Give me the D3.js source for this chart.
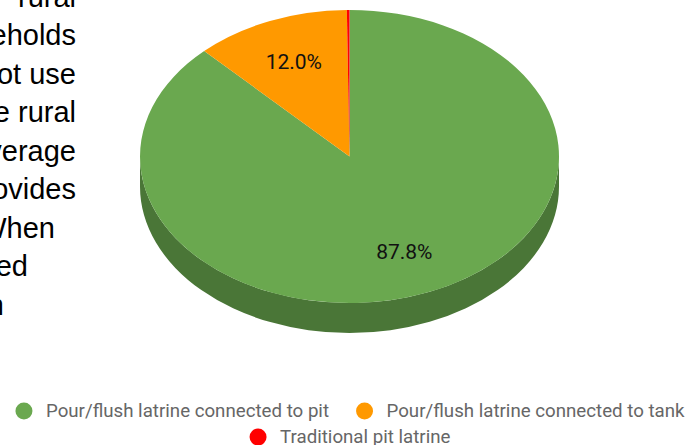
<!DOCTYPE html>
<html>
<head>
<meta charset="utf-8">
<script src="https://cdn.jsdelivr.net/npm/d3@7"></script>
<style>
  body { margin: 0; background: #fff; }
  svg { display: block; }
</style>
</head>
<body>
<div id="chart"></div>
<script>
// Slices, in drawing order (clockwise from 12 o'clock)
var categories = [
    "Pour/flush latrine connected to pit",
    "Pour/flush latrine connected to tank",
    "Traditional pit latrine"
];
var values = [87.8, 12.0, 0.2];
var colors = ["#6aa84f", "#ff9900", "#ff0000"];

// Legend rows (indices into categories)
var legendRows = [[0, 1], [2]];

// Fragment of the document text the chart sits on (cut by the left edge)
var bodyLines = ["rural", "households", "not use", "the rural", "coverage",
                 "provides", "When", "based", "in"];
var bodyLineEnds = [76, 76, 76, 76, 76, 76, 55, 28, 4];

var width = 700,
    height = 445;

var svg = d3.select('#chart')
    .append('svg')
    .attr('width', width)
    .attr('height', height);

// ---- background text
svg.append('g')
    .selectAll('text')
    .data(bodyLines)
    .enter()
    .append('text')
    .attr('x', function (d, i) { return bodyLineEnds[i]; })
    .attr('y', function (d, i) { return 6.5 + i * 38.5; })
    .attr('text-anchor', 'end')
    .style('font', '29px "Liberation Sans", Arial, sans-serif')
    .attr('fill', '#000')
    .text(function (d) { return d; });

// ---- 3D pie
var cx = 349.5,
    cy = 156.5,
    rx = 209.5,
    ry = 146.5,
    depth = 30;

var pie = d3.pie().sort(null).value(function (d) { return d; });
var slices = pie(values);

function px(a, r) { return cx + Math.sin(a) * rx * r; }
function py(a, r) { return cy - Math.cos(a) * ry * r; }

// side wall (only the front half is visible)
svg.append('g')
    .selectAll('path')
    .data(slices.filter(function (d) {
        return d.endAngle > Math.PI / 2 && d.startAngle < Math.PI * 1.5;
    }))
    .enter()
    .append('path')
    .attr('d', function (d) {
        var a0 = Math.max(d.startAngle, Math.PI / 2),
            a1 = Math.min(d.endAngle, Math.PI * 1.5);
        return 'M' + px(a0, 1) + ',' + py(a0, 1) +
            'A' + rx + ',' + ry + ' 0 0 1 ' + px(a1, 1) + ',' + py(a1, 1) +
            'L' + px(a1, 1) + ',' + (py(a1, 1) + depth) +
            'A' + rx + ',' + ry + ' 0 0 0 ' + px(a0, 1) + ',' + (py(a0, 1) + depth) +
            'Z';
    })
    .attr('fill', function (d) { return d3.color(colors[d.index]).darker(1); });

// top face
var arc = d3.arc().innerRadius(0).outerRadius(rx);

svg.append('g')
    .attr('transform', 'translate(' + cx + ',' + cy + ') scale(1,' + (ry / rx) + ')')
    .selectAll('path')
    .data(slices)
    .enter()
    .append('path')
    .attr('d', arc)
    .attr('fill', function (d) { return colors[d.index]; });

// slice labels
svg.append('g')
    .selectAll('text')
    .data(slices.filter(function (d) { return d.data >= 1; }))
    .enter()
    .append('text')
    .attr('x', function (d) { return px((d.startAngle + d.endAngle) / 2, 0.7); })
    .attr('y', function (d) { return py((d.startAngle + d.endAngle) / 2, 0.7) + 7.5; })
    .attr('text-anchor', 'middle')
    .style('font', '21px Roboto, sans-serif')
    .attr('fill', '#111')
    .text(function (d) { return d.data.toFixed(1) + '%'; });

// ---- legend
var legend = svg.append('g');
var rowY = [411, 437],
    dotR = 8.5,
    dotGap = 22,
    itemGap = 27;

legendRows.forEach(function (row, r) {
    var rowG = legend.append('g');
    var x = 0;
    row.forEach(function (idx) {
        var item = rowG.append('g').attr('transform', 'translate(' + x + ',0)');
        item.append('circle')
            .attr('cx', dotR)
            .attr('cy', rowY[r])
            .attr('r', dotR)
            .attr('fill', colors[idx]);
        var t = item.append('text')
            .attr('x', dotR + dotGap)
            .attr('y', rowY[r] + 6)
            .style('font', '18.7px Roboto, sans-serif')
            .attr('fill', '#666')
            .text(categories[idx]);
        x += dotR + dotGap + t.node().getComputedTextLength() + itemGap;
    });
    var w = x - itemGap;
    rowG.attr('transform', 'translate(' + (350 - w / 2) + ',0)');
});
</script>
</body>
</html>
